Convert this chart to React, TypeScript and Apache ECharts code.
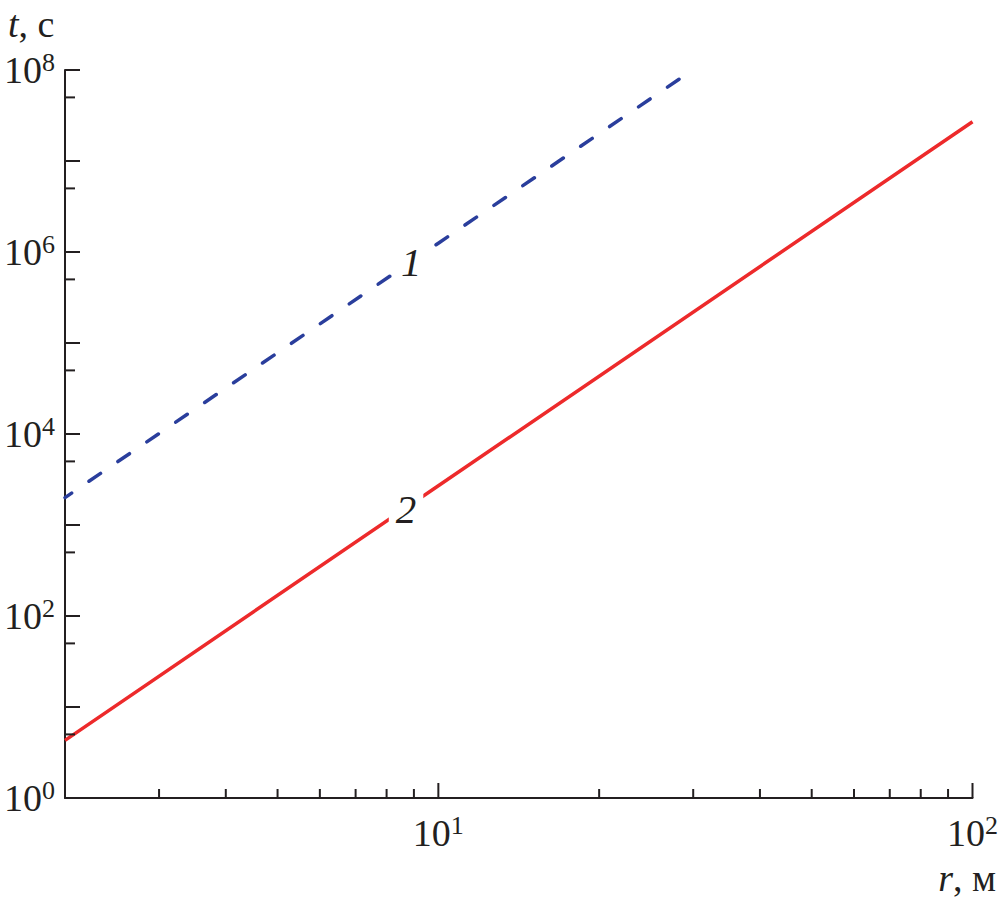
import React, { useEffect, useRef } from "react";
import * as echarts from "echarts";

// ---- data ----
const curve1R = [2, 10, 28.3];
const curve1T = [2000, 1.25e6, 8.0e7];
const curve2R = [2, 10, 100];
const curve2T = [4.3, 2700, 2.7e7];

const curveLabels = ["1", "2"];
const curveLabelR = [8.9, 8.7];
const curveLabelT = [7.8e5, 1.5e3];

const xMajorTicks = [10, 100];
const xMinorTicks = [3, 4, 5, 6, 7, 8, 9, 20, 30, 40, 50, 60, 70, 80, 90];
const yMajorTicks = [1, 1e1, 1e2, 1e3, 1e4, 1e5, 1e6, 1e7, 1e8];
const yMinorTicks = [5, 50, 5e2, 5e3, 5e4, 5e5, 5e6, 5e7];

const X_MIN = 2;
const X_MAX = 100;
const Y_MIN = 1;
const Y_MAX = 1e8;

const FONT = "Liberation Serif";
const INK = "#231f20";

function powLabel(v: number, evenOnly: boolean): string {
  const e = Math.log10(v);
  const r = Math.round(e);
  if (Math.abs(e - r) > 1e-6) return "";
  if (evenOnly && r % 2 !== 0) return "";
  return `{b|10}{s|${r}}`;
}

const richSup = {
  b: { fontFamily: FONT, fontSize: 38, fontWeight: "normal", color: INK, lineHeight: 42 },
  s: {
    fontFamily: FONT,
    fontSize: 26,
    fontWeight: "normal",
    color: INK,
    verticalAlign: "top",
    lineHeight: 42,
    padding: [0, 0, 20, 0],
  },
};

function tickSeries(values: number[], axis: "x" | "y", len: number) {
  return {
    type: "custom",
    silent: true,
    clip: false,
    z: 5,
    data: values.map((v) => (axis === "x" ? [v, Y_MIN] : [X_MIN, v])),
    renderItem: (params: any, api: any) => {
      const p = api.coord([api.value(0), api.value(1)]);
      const shape =
        axis === "x"
          ? { x1: p[0], y1: p[1], x2: p[0], y2: p[1] - len }
          : { x1: p[0], y1: p[1], x2: p[0] + len, y2: p[1] };
      return { type: "line", shape, style: { stroke: INK, lineWidth: 2 } };
    },
  };
}

const nameRich = {
  i: { fontFamily: FONT, fontSize: 38, fontStyle: "italic", fontWeight: "normal", color: INK },
  n: { fontFamily: FONT, fontSize: 38, fontWeight: "normal", color: INK },
};

export default function App() {
  const ref = useRef<HTMLDivElement>(null);
  useEffect(() => {
    if (!ref.current) return;
    const chart = echarts.init(ref.current, undefined, { renderer: "svg" });
    chart.setOption({
      animation: false,
      backgroundColor: "#ffffff",
      textStyle: { fontFamily: FONT },
      title: [
        {
          text: "{i|t}{n|, с}",
          left: 3,
          top: 0,
          textStyle: { fontFamily: FONT, fontWeight: "normal", rich: nameRich },
        },
        {
          text: "{i|r}{n|, м}",
          right: 0,
          bottom: 2,
          textStyle: { fontFamily: FONT, fontWeight: "normal", rich: nameRich },
        },
      ],
      grid: { left: 65, right: 28, top: 70, bottom: 106, containLabel: false },
      xAxis: {
        type: "log",
        logBase: 10,
        min: X_MIN,
        max: X_MAX,
        axisLine: { show: true, onZero: false, lineStyle: { color: INK, width: 2 } },
        axisTick: { show: false },
        splitLine: { show: false },
        axisLabel: {
          margin: 14,
          showMinLabel: true,
          showMaxLabel: true,
          hideOverlap: false,
          fontFamily: FONT,
          formatter: (v: number) => powLabel(v, false),
          rich: richSup,
        },
      },
      yAxis: {
        type: "log",
        logBase: 10,
        min: Y_MIN,
        max: Y_MAX,
        axisLine: { show: true, onZero: false, lineStyle: { color: INK, width: 2 } },
        axisTick: { show: false },
        splitLine: { show: false },
        axisLabel: {
          margin: 10,
          showMinLabel: true,
          showMaxLabel: true,
          hideOverlap: false,
          fontFamily: FONT,
          formatter: (v: number) => powLabel(v, true),
          rich: richSup,
        },
      },
      series: [
        tickSeries(xMajorTicks, "x", 15),
        tickSeries(xMinorTicks, "x", 9),
        tickSeries(yMajorTicks, "y", 15),
        tickSeries(yMinorTicks, "y", 10),
        {
          type: "line",
          name: "1",
          data: curve1R.map((r, i) => [r, curve1T[i]]),
          showSymbol: false,
          symbol: "none",
          lineStyle: { color: "#2a3e9c", width: 3.5, type: [14, 21], cap: "round", dashOffset: 6 },
          z: 2,
        },
        {
          type: "line",
          name: "2",
          data: curve2R.map((r, i) => [r, curve2T[i]]),
          showSymbol: false,
          symbol: "none",
          lineStyle: { color: "#ed2a2b", width: 3.5 },
          z: 2,
        },
        {
          type: "custom",
          silent: true,
          clip: false,
          z: 10,
          data: curveLabels.map((n, i) => [curveLabelR[i], curveLabelT[i], i]),
          renderItem: (params: any, api: any) => {
            const p = api.coord([api.value(0), api.value(1)]);
            const idx = api.value(2);
            return {
              type: "text",
              x: p[0],
              y: p[1],
              style: {
                text: curveLabels[idx],
                font: `italic 41px ${FONT}`,
                fill: INK,
                align: "center",
                verticalAlign: "middle",
                backgroundColor: "#ffffff",
                padding: [0, 7, 0, 7],
              },
            };
          },
        },
      ],
    });
    return () => chart.dispose();
  }, []);
  return (
    <div
      ref={ref}
      style={{ position: "fixed", left: 0, top: 0, width: 1001, height: 904, background: "#fff" }}
    />
  );
}
